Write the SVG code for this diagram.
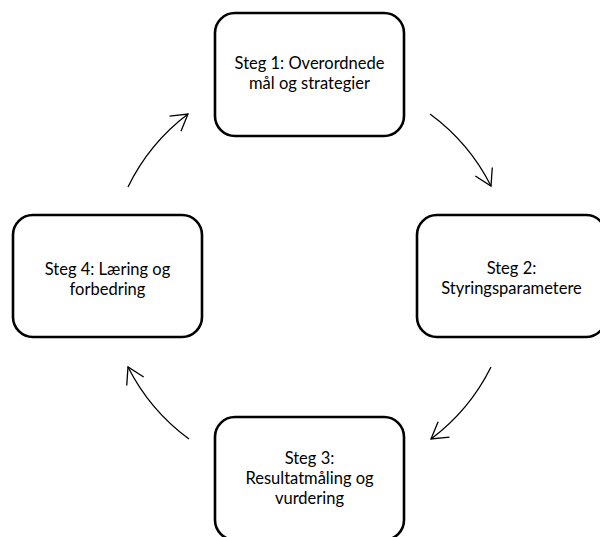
<svg xmlns="http://www.w3.org/2000/svg" width="600" height="537" viewBox="0 0 600 537">
<style>
.box{fill:#fff;stroke:#000;stroke-width:2.6}
.t{font-family:Lato,"Open Sans","Liberation Sans",sans-serif;font-size:16.5px;fill:#000;text-anchor:middle}
.c{fill:none;stroke:#000;stroke-width:1.3}
</style>
<defs>
<marker id="ah" markerUnits="userSpaceOnUse" markerWidth="24" markerHeight="24" viewBox="-20 -12 24 24" refX="0" refY="0" orient="auto" overflow="visible">
<path d="M-16,-9.5 L0,0 L-16,9.5" fill="none" stroke="#000" stroke-width="1.3"/>
</marker>
</defs>
<rect width="600" height="537" fill="#fff"/>
<g id="connectors">
<path class="c" d="M430,114 A202,202 0 0 1 491,186" marker-end="url(#ah)"/>
<path class="c" d="M491,367 A202,202 0 0 1 431,439" marker-end="url(#ah)"/>
<path class="c" d="M189,439 A202,202 0 0 1 128,367" marker-end="url(#ah)"/>
<path class="c" d="M128,187 A202,202 0 0 1 188,114" marker-end="url(#ah)"/>
</g>
<g id="step1">
<rect class="box" x="215" y="13" width="189" height="123" rx="20"/>
<text class="t" x="309.5" y="69">Steg 1: Overordnede</text>
<text class="t" x="309.5" y="89">mål og strategier</text>
</g>
<g id="step2">
<rect class="box" x="417" y="215" width="189" height="122" rx="20"/>
<text class="t" x="511.5" y="273.5">Steg 2:</text>
<text class="t" x="511.5" y="293.5">Styringsparametere</text>
</g>
<g id="step3">
<rect class="box" x="215" y="417" width="189" height="123" rx="20"/>
<text class="t" x="309.5" y="464">Steg 3:</text>
<text class="t" x="309.5" y="484">Resultatmåling og</text>
<text class="t" x="309.5" y="504">vurdering</text>
</g>
<g id="step4">
<rect class="box" x="13" y="215" width="189" height="122" rx="20"/>
<text class="t" x="107.5" y="274.5">Steg 4: Læring og</text>
<text class="t" x="107.5" y="294.5">forbedring</text>
</g>
</svg>
